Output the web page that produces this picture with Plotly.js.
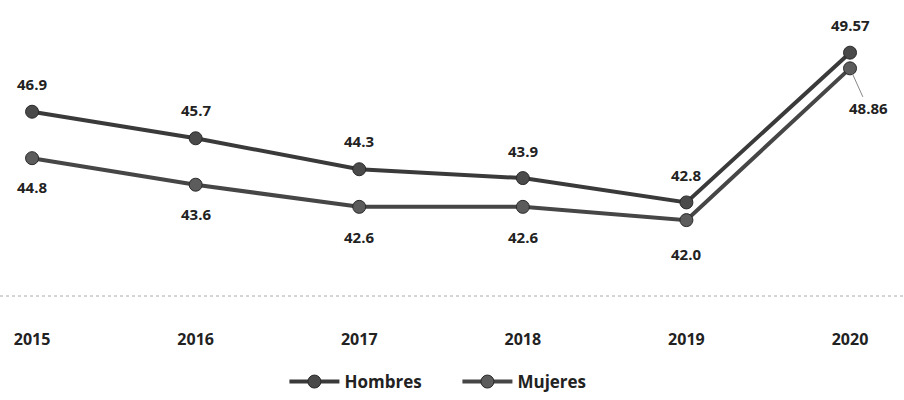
<!DOCTYPE html>
<html>
<head>
<meta charset="utf-8">
<script src="https://cdn.plot.ly/plotly-3.0.1.min.js"></script>
<style>html,body{margin:0;padding:0;background:#fff;}#chart{width:904px;height:400px;}</style>
</head>
<body>
<div id="chart"></div>
<script>
var years = ['2015', '2016', '2017', '2018', '2019', '2020'];
var hombres = [46.9, 45.7, 44.3, 43.9, 42.8, 49.57];
var mujeres = [44.8, 43.6, 42.6, 42.6, 42.0, 48.86];
var hombresLabels = ['46.9', '45.7', '44.3', '43.9', '42.8', '49.57'];
var mujeresLabels = ['44.8', '43.6', '42.6', '42.6', '42.0', '48.86'];

var fontFam = 'Open Sans, Noto Sans, sans-serif';
var traces = [
  {x: years, y: hombres, name: 'Hombres', type: 'scatter', mode: 'lines+markers',
   line: {color: '#3a3a3a', width: 4}, marker: {color: '#4a4a4a', size: 13, symbol: 'circle', line: {color: '#2a2a2a', width: 1}}},
  {x: years, y: mujeres, name: 'Mujeres', type: 'scatter', mode: 'lines+markers',
   line: {color: '#464646', width: 4}, marker: {color: '#5c5c5c', size: 13, symbol: 'circle', line: {color: '#2a2a2a', width: 1}}}
];

function lf() { return {family: fontFam, size: 15, color: '#222', weight: 'bold'}; }
var annotations = [];
var hShift = [28, 28, 28, 27, 27, 28];
for (var i = 0; i < years.length; i++) {
  annotations.push({xref: 'x', yref: 'y', x: i, y: hombres[i], text: hombresLabels[i], showarrow: false,
    yshift: hShift[i], font: lf()});
}
var mShift = [-29, -29, -30, -30, -34];
for (var j = 0; j < years.length - 1; j++) {
  annotations.push({xref: 'x', yref: 'y', x: j, y: mujeres[j], text: mujeresLabels[j], showarrow: false,
    yshift: mShift[j], font: lf()});
}
annotations.push({xref: 'x', yref: 'y', x: 5, y: mujeres[5], text: mujeresLabels[5], showarrow: true,
  arrowhead: 0, arrowwidth: 1, arrowcolor: '#888', ax: 18, ay: 40, standoff: 6,
  font: lf()});

var layout = {
  width: 904, height: 400,
  margin: {l: 0, r: 0, t: 0, b: 103},
  paper_bgcolor: '#fff', plot_bgcolor: '#fff',
  showlegend: true,
  legend: {orientation: 'h', x: 0.506, xanchor: 'center', y: -0.29, yanchor: 'middle', itemwidth: 50,
    entrywidth: 108, entrywidthmode: 'pixels',
    font: {family: fontFam, size: 17, color: '#222', weight: 'bold'}},
  xaxis: {type: 'category', range: [-0.196, 5.33], showgrid: false, zeroline: false, showline: false,
    ticks: '', ticklabelstandoff: 32, tickfont: {family: fontFam, size: 16, color: '#222', weight: 'bold'}},
  yaxis: {range: [38.57, 51.95], visible: false, showgrid: false, zeroline: false},
  shapes: [{type: 'line', xref: 'paper', yref: 'paper', x0: 0, x1: 1, y0: 0, y1: 0,
    line: {color: '#aaa', width: 1, dash: 'dot'}}],
  annotations: annotations
};

Plotly.newPlot('chart', traces, layout, {displayModeBar: false, staticPlot: true});
</script>
</body>
</html>
